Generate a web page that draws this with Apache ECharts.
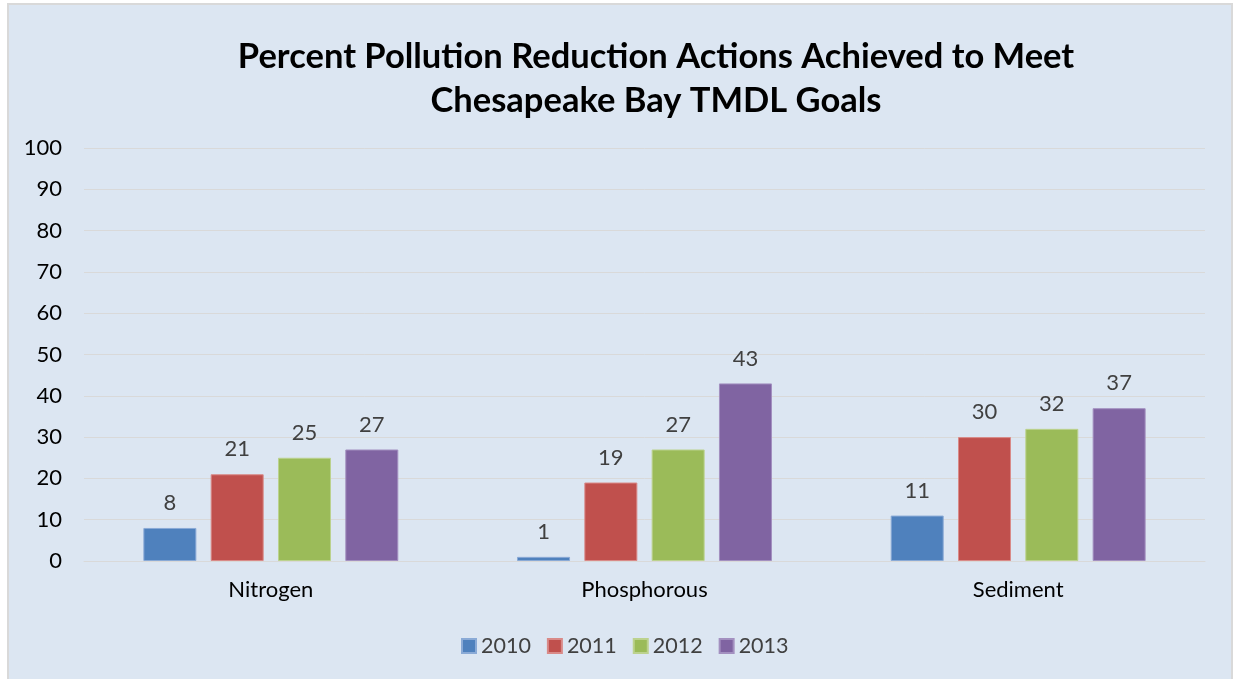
<!DOCTYPE html>
<html>
<head>
<meta charset="utf-8">
<script src="https://cdn.jsdelivr.net/npm/echarts@6/dist/echarts.min.js"></script>
<style>
  html, body { margin: 0; padding: 0; background: #ffffff; width: 1235px; height: 679px; overflow: hidden; }
  #frame { position: absolute; left: 7px; top: 3px; width: 1222px; height: 680px; border: 2px solid #D9D9D9; background: #DCE6F2; }
  #chart { width: 1222px; height: 680px; }
</style>
</head>
<body>
<div id="frame"><div id="chart"></div></div>
<script>
const titleText = 'Percent Pollution Reduction Actions Achieved to Meet\nChesapeake Bay TMDL Goals';
const categories = ['Nitrogen', 'Phosphorous', 'Sediment'];
const years = ['2010', '2011', '2012', '2013'];
const values2010 = [8, 1, 11];
const values2011 = [21, 19, 30];
const values2012 = [25, 27, 32];
const values2013 = [27, 43, 37];
const seriesValues = [values2010, values2011, values2012, values2013];
const colors = ['#4F81BD', '#C0504D', '#9BBB59', '#8064A2'];
const borderColors = ['#8AAAD6', '#D98A88', '#BCD28E', '#A390C0'];

const FONT = 'Lato, "Open Sans", sans-serif';
const chart = echarts.init(document.getElementById('chart'), null, { renderer: 'canvas' });

chart.setOption({
  backgroundColor: '#DCE6F2',
  animation: false,
  graphic: [{
    type: 'text',
    x: 647,
    y: 74,
    style: {
      text: titleText,
      font: 'bold 34.5px ' + FONT,
      fill: '#000000',
      align: 'center',
      verticalAlign: 'middle',
      lineHeight: 44
    }
  }],
  grid: { left: 75, right: 26, top: 143, bottom: 124, containLabel: false },
  legend: {
    data: years,
    left: 447,
    top: 625,
    itemWidth: 14,
    itemHeight: 14,
    itemGap: 16,
    icon: 'rect',
    textStyle: { color: '#404040', fontSize: 21.5, fontFamily: FONT }
  },
  xAxis: {
    type: 'category',
    data: categories,
    axisLine: { show: true, lineStyle: { color: '#D9D9D9', width: 1 } },
    axisTick: { show: false },
    axisLabel: { color: '#000000', fontSize: 22, fontFamily: FONT, margin: 18 }
  },
  yAxis: {
    type: 'value',
    min: 0,
    max: 100,
    interval: 10,
    axisLine: { show: false },
    axisTick: { show: false },
    splitLine: { lineStyle: { color: '#D9D9D9', width: 1 } },
    axisLabel: { color: '#000000', fontSize: 22, fontFamily: FONT, margin: 22 }
  },
  series: years.map((y, i) => ({
    name: y,
    type: 'bar',
    data: seriesValues[i],
    barWidth: 53,
    barGap: '27%',
    itemStyle: { color: colors[i], borderColor: borderColors[i], borderWidth: 1 },
    label: {
      show: true,
      position: 'top',
      distance: 14,
      color: '#404040',
      fontSize: 22,
      fontFamily: FONT
    }
  }))
});
</script>
</body>
</html>
